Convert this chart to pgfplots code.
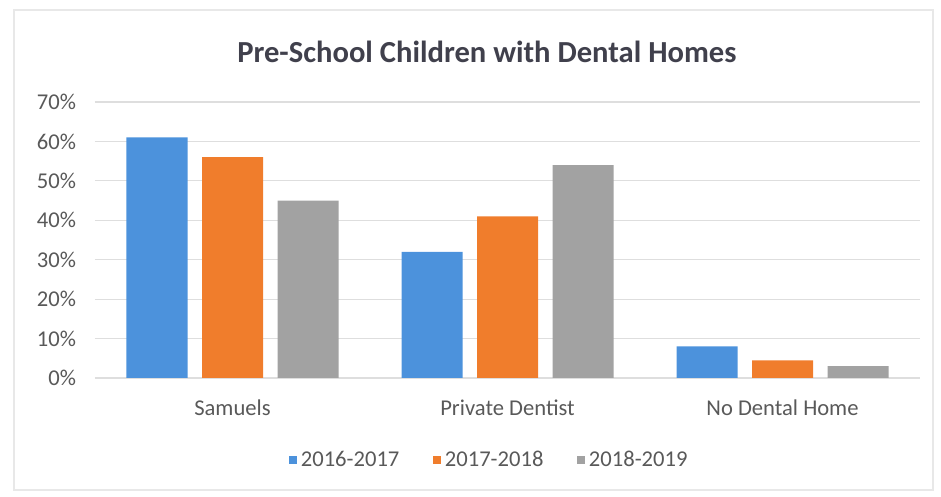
\documentclass[border=0pt]{standalone}
\usepackage{pgfplots}
\pgfplotsset{compat=1.18}
\usepackage{fontspec}
\setmainfont{Carlito}
\definecolor{cblue}{RGB}{76,146,220}
\definecolor{corange}{RGB}{240,125,44}
\definecolor{cgray}{RGB}{162,162,162}
\definecolor{ctext}{RGB}{89,89,89}
\definecolor{ctitle}{RGB}{64,64,76}
\definecolor{cgrid}{RGB}{222,222,222}
\begin{document}
\begin{tikzpicture}
\path (-47.5pt,-59.5pt) rectangle (423pt,189pt);
\draw[cgrid!70, line width=0.8pt] (-40.5pt,-56pt) rectangle (419pt,184pt);
\begin{axis}[
  scale only axis,
  width=412.5pt, height=138pt,
  xmin=-0.5, xmax=2.5,
  ymin=0, ymax=70,
  ytick={0,10,...,70},
  xtick={0,1,2},
  xticklabels={Samuels,Private Dentist,No Dental Home},
  axis line style={draw=none},
  major tick length=0pt,
  ymajorgrids,
  grid style={cgrid, line width=0.6pt},
  yticklabel={\pgfmathprintnumber{\tick}\%},
  /pgf/number format/assume math mode=true,
  ticklabel style={font=\fontsize{11.3}{13}\selectfont, text=ctext},
  yticklabel style={xshift=-6pt},
  xticklabel style={yshift=-7.5pt},
  ybar=7.25pt,
  bar width=30.5pt,
  title={Pre-School Children with Dental Homes},
  title style={at={(0.475,1.178)}, anchor=center, yshift=-5.5pt, font=\fontsize{15.3}{17}\selectfont\bfseries, text=ctitle},
  legend columns=3,
  legend style={draw=none, fill=none, at={(0.479,-0.297)}, anchor=center,
    font=\fontsize{11.3}{13}\selectfont, text=ctext,
    /tikz/every even column/.append style={column sep=14.75pt}},
  legend image code/.code={\fill[#1] (0pt,-2pt) rectangle (4pt,2pt);},
]
\addplot[fill=cblue, draw=none] coordinates {(0,61) (1,32) (2,8)};
\addplot[fill=corange, draw=none] coordinates {(0,56) (1,41) (2,4.5)};
\addplot[fill=cgray, draw=none] coordinates {(0,45) (1,54) (2,3)};
\legend{2016-2017,2017-2018,2018-2019}
\end{axis}
\end{tikzpicture}
\end{document}
